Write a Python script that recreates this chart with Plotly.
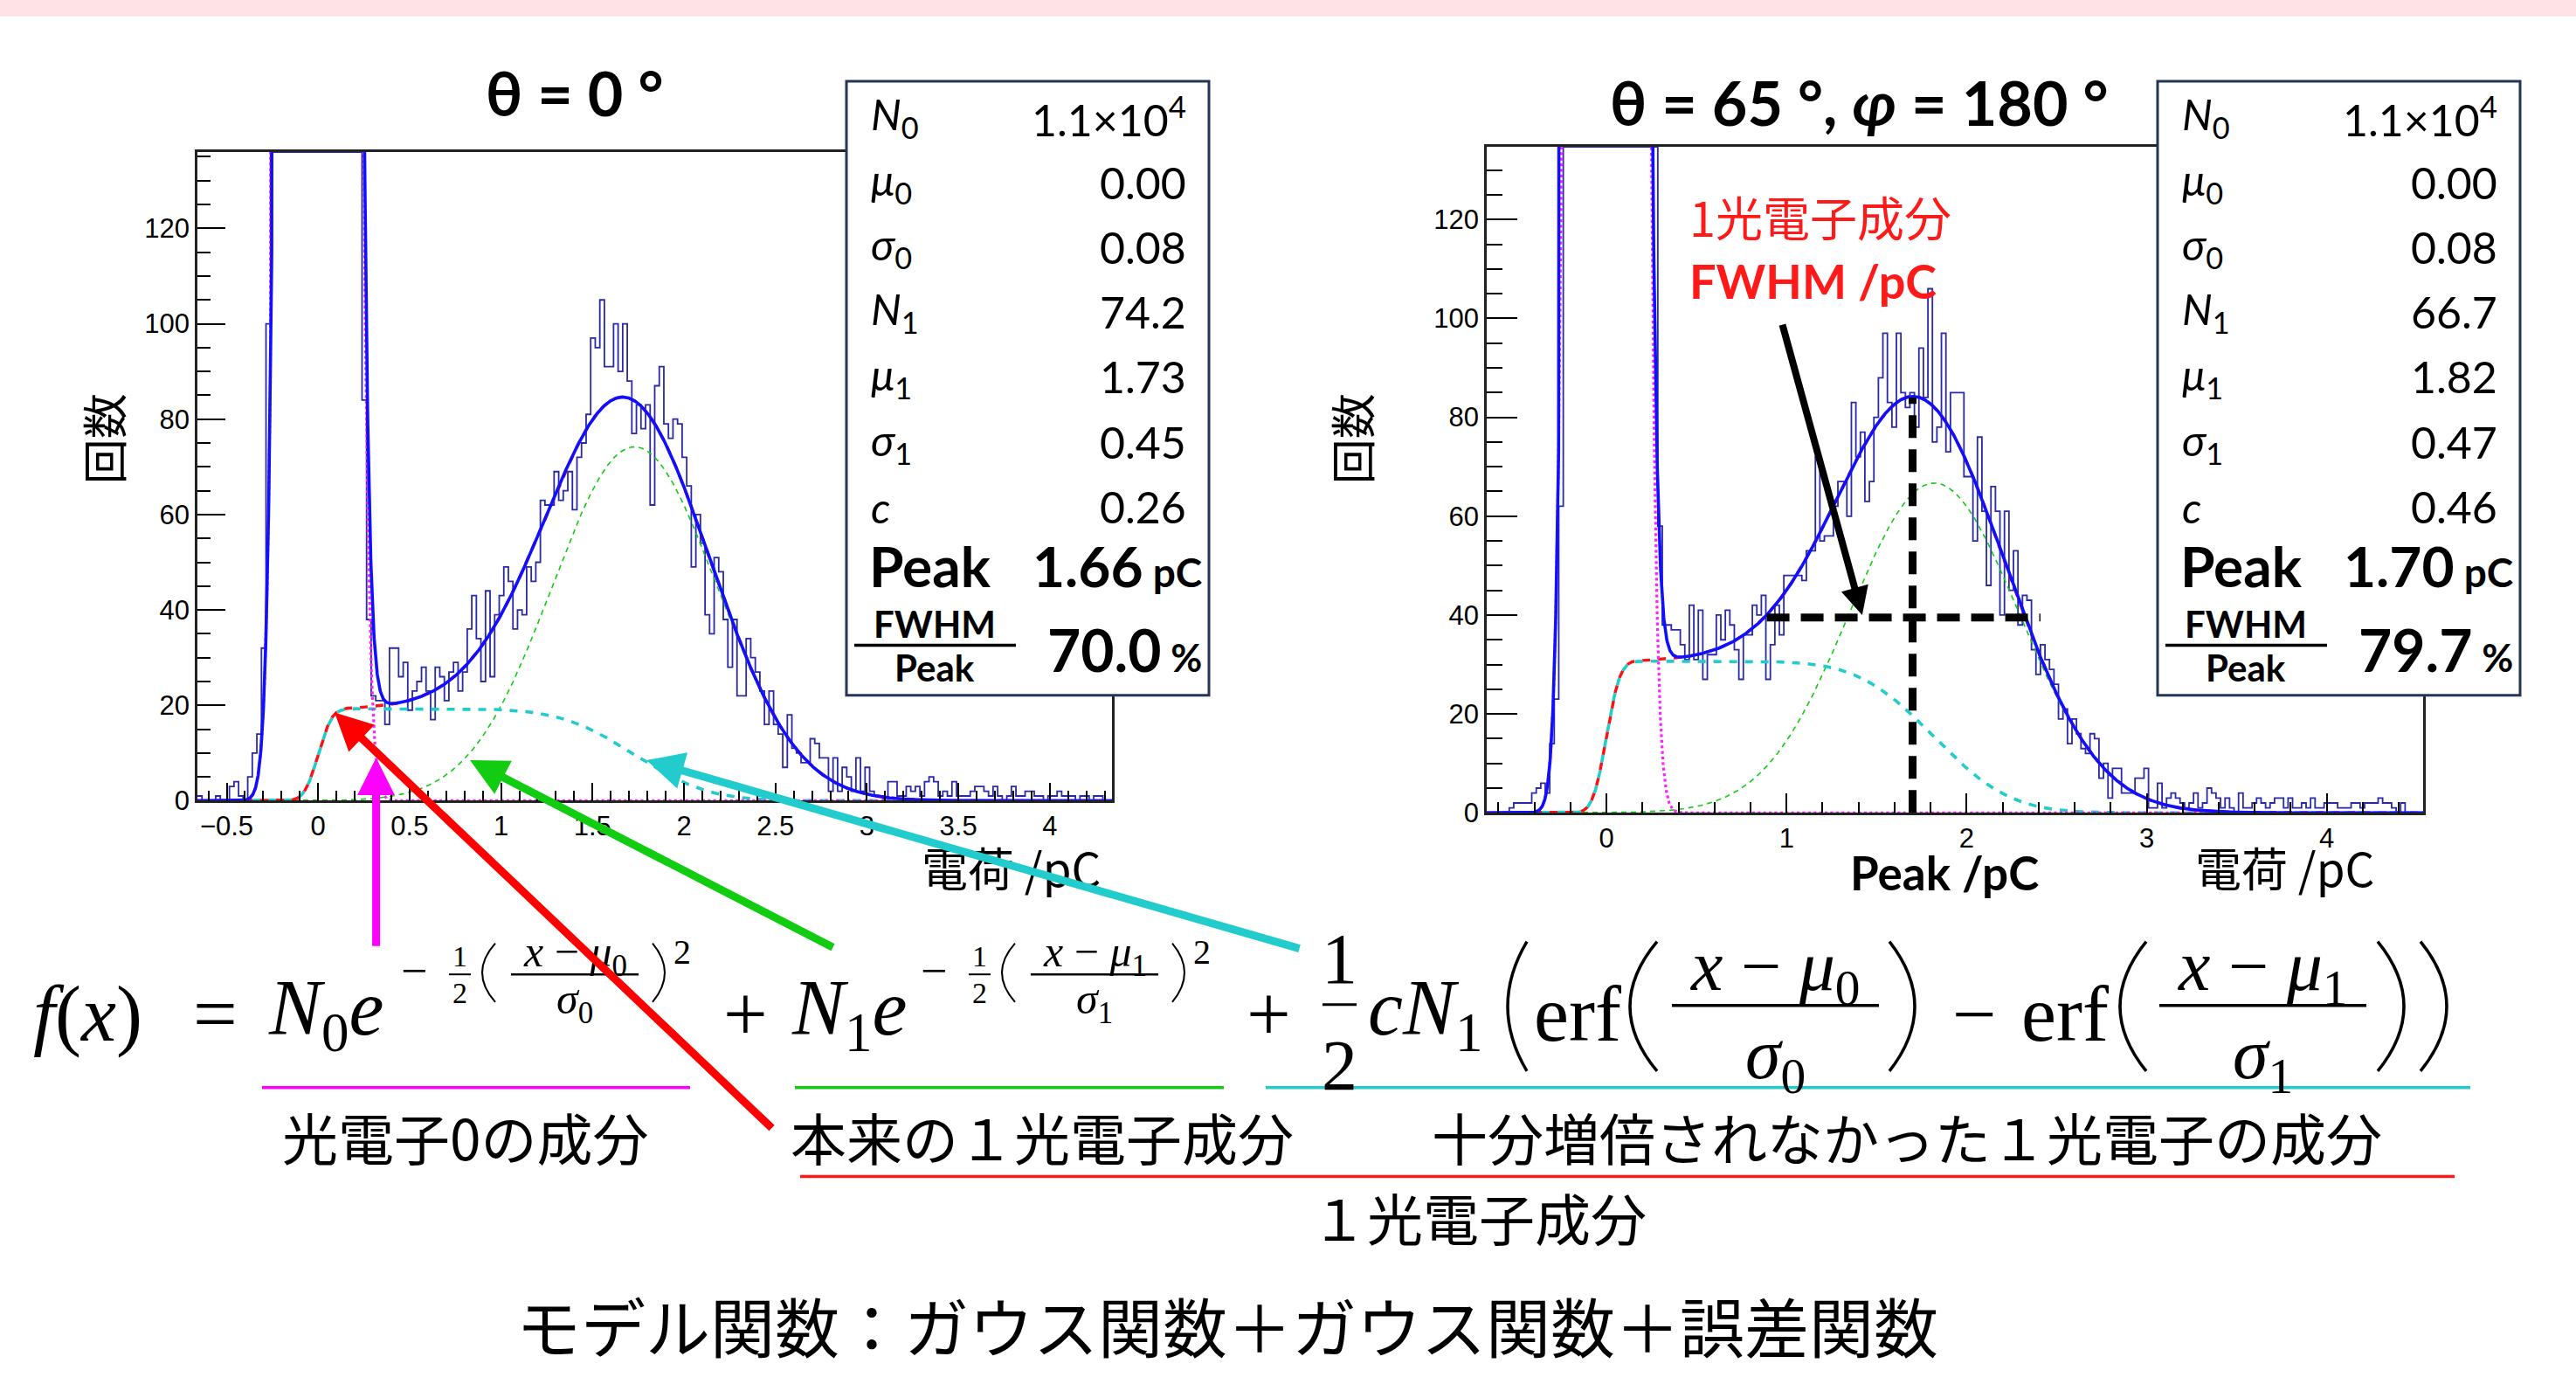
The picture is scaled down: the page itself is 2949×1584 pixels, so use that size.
import math
import numpy as np
import plotly.graph_objects as go

W, H = 2949, 1584

# ------------------------------------------------------------------ data
BIN_WIDTH = 0.025
LEFT_BIN_START = -0.66
RIGHT_BIN_START = -0.665
LEFT_X_RANGE = [-0.66, 4.34]
RIGHT_X_RANGE = [-0.665, 4.535]
LEFT_Y_TOP = 136.0
RIGHT_Y_TOP = 134.7

# histogram counts per 0.025 pC bin (theta = 0 deg)
left_counts = [
    1, 0, 0, 0, 1, 0, 0, 3, 4, 1, 0, 5, 10, 14, 32, 100,
    200, 530, 1250, 2550, 4500, 6800, 8900, 10300, 10900, 11000,
    11000, 10900, 10300, 8900, 6800, 4500, 2550, 1250, 530, 200,
    84, 38, 22, 21, 21, 16, 32, 32, 26, 29, 19, 23, 25, 28, 23, 17, 28, 26, 21, 27, 29, 23, 27,
    36, 43, 34, 25, 44, 26, 39,
    43, 49, 46, 36, 40, 39, 49, 46, 50, 63, 62, 62, 69, 63, 65, 69, 61, 72, 75, 81,
    97, 95, 105, 91, 91, 100, 90, 100, 88, 77, 83, 78, 83, 62, 87, 91, 79, 76, 80, 79,
    72, 66, 49, 60, 54, 39, 35, 51, 48, 38, 28, 38, 22, 22, 34, 30, 27, 23, 16, 23,
    16, 14, 7, 18, 11, 10, 8, 8, 13, 12, 9, 9, 2, 9, 2, 7, 5, 2, 9, 2,
    7, 2, 1, 1, 0, 4, 4, 1, 1, 3, 2, 3, 1, 4, 5, 4, 1, 2, 1, 4,
    1, 1, 1, 2, 3, 3, 2, 1, 3, 1, 0, 1, 3, 1, 1, 2, 2, 1, 1, 0,
    1, 1, 2, 1, 1, 1, 0, 1, 1, 0, 1, 1, 0, 0,
]

# histogram counts per 0.025 pC bin (theta = 65 deg, phi = 180 deg)
right_counts = [
    0, 0, 0, 0, 0, 1, 2, 2, 2, 2, 4, 5, 6, 4, 14, 23, 62,
    200, 530, 1250, 2550, 4500, 6800, 8900, 10300, 10900, 11000,
    11000, 10900, 10300, 8900, 6800, 4500, 2550, 1250, 530, 200,
    150, 58,
    38, 38, 37, 37, 34, 31, 42, 31, 41, 27, 32, 32, 40, 35, 41, 38, 33, 27, 36, 36, 42, 40, 44, 27, 34, 42, 36,
    48, 48, 48, 48,
    47, 53, 53, 72, 55, 56, 56, 62, 67, 67, 60, 83, 72, 77, 63, 67, 80, 88, 97, 83,
    78, 97, 85, 82, 85, 78, 94, 84, 106, 75, 78, 97, 73, 85, 85, 85, 68, 68, 55, 76,
    61, 46, 66, 61, 40, 61, 45, 53, 38, 44, 43, 33, 28, 34, 31, 29, 26, 19, 21, 14,
    19, 16, 13, 12, 16, 15, 7, 10, 3, 9, 9, 4, 4, 4, 7, 7, 9, 1, 1, 6,
    1, 3, 4, 3, 2, 1, 2, 4, 1, 2, 5, 4, 3, 1, 3, 1, 0, 4, 1, 1,
    2, 3, 2, 1, 2, 3, 3, 1, 3, 1, 1, 2, 1, 3, 1, 1, 2, 2, 2, 1,
    1, 1, 2, 2, 1, 2, 2, 2, 3, 2, 2, 1, 0, 2, 0, 0, 0, 0,
]

# fit parameters: N0, mu0, sigma0, N1, mu1, sigma1, c
left_params = [1.1e4, 0.00, 0.084, 74.2, 1.73, 0.45, 0.26]
right_params = [1.1e4, 0.00, 0.084, 66.7, 1.82, 0.47, 0.46]

stat_labels = ["<i>N</i><sub>0</sub>", "<i>μ</i><sub>0</sub>", "<i>σ</i><sub>0</sub>",
               "<i>N</i><sub>1</sub>", "<i>μ</i><sub>1</sub>", "<i>σ</i><sub>1</sub>", "<i>c</i>"]
left_stat_values = ["1.1×10<sup>4</sup>", "0.00", "0.08", "74.2", "1.73", "0.45", "0.26"]
right_stat_values = ["1.1×10<sup>4</sup>", "0.00", "0.08", "66.7", "1.82", "0.47", "0.46"]
left_peak, right_peak = "1.66", "1.70"
left_ratio, right_ratio = "70.0", "79.7"

left_title = "<b>θ = 0 °</b>"
right_title = "<b>θ = 65 °, <i>φ</i> = 180 °</b>"

# FWHM marker in the right panel
fwhm_level = 39.5
fwhm_span = [0.89, 2.41]
peak_position = 1.70
peak_height = 84.0

# ------------------------------------------------------------------ helpers
MF = "Liberation Serif"
CJK = "Noto Sans CJK JP"
LATO = "Lato"
BLUE_FIT = "#1010ff"
BLUE_HIST = "#2a2aa8"

annotations = []
shapes = []


def P(x, y):
    return x / W, 1 - y / H


def T(x, y, text, size, family=MF, color="black", xanchor="center",
      yanchor="middle", angle=0):
    px_, py_ = P(x, y)
    annotations.append(dict(x=px_, y=py_, xref="paper", yref="paper", text=text,
                            showarrow=False, xanchor=xanchor, yanchor=yanchor,
                            textangle=angle,
                            font=dict(size=size, family=family, color=color)))


def L(x0, y0, x1, y1, color="black", w=3, dash=None):
    a, b = P(x0, y0)
    c, d = P(x1, y1)
    ln = dict(color=color, width=w)
    if dash:
        ln["dash"] = dash
    shapes.append(dict(type="line", xref="paper", yref="paper", x0=a, y0=b,
                       x1=c, y1=d, line=ln, layer="above"))


def paren(xa, xb, yt, yb, left=True, w=3):
    x_end, x_ext = (xb, xa) if left else (xa, xb)
    xc = 2 * x_ext - x_end
    ym = (yt + yb) / 2
    a, b = P(x_end, yt)
    c, d = P(xc, ym)
    e, f = P(x_end, yb)
    shapes.append(dict(type="path", xref="paper", yref="paper",
                       path=f"M {a},{b} Q {c},{d} {e},{f}",
                       line=dict(color="black", width=w), layer="above"))


def model_parts(x, p):
    n0, m0, s0, n1, m1, s1, c = p
    erf = np.vectorize(math.erf)
    g0 = n0 * np.exp(-0.5 * ((x - m0) / s0) ** 2)
    g1 = n1 * np.exp(-0.5 * ((x - m1) / s1) ** 2)
    e = 0.5 * c * n1 * (erf((x - m0) / s0) - erf((x - m1) / s1))
    return g0, g1, e


fig = go.Figure()


def add_panel(counts, start, xr, ytop, params, xa, ya):
    n = len(counts)
    edges = start + BIN_WIDTH * np.arange(n + 1)
    shown = np.minimum(np.array(counts + [counts[-1]], dtype=float), ytop)
    fig.add_trace(go.Scatter(x=edges, y=shown, mode="lines", line_shape="hv",
                             line=dict(color=BLUE_HIST, width=1.8),
                             xaxis=xa, yaxis=ya, hoverinfo="skip"))
    xs = np.linspace(xr[0], xr[1], 4000)
    g0, g1, e = model_parts(xs, params)
    fig.add_trace(go.Scatter(x=xs, y=g1, mode="lines",
                             line=dict(color="#11cc11", width=1.6, dash="6px,5px"),
                             xaxis=xa, yaxis=ya, hoverinfo="skip"))
    fig.add_trace(go.Scatter(x=xs, y=g1 + e, mode="lines",
                             line=dict(color="#ff1010", width=3.4, dash="9px,9px"),
                             xaxis=xa, yaxis=ya, hoverinfo="skip"))
    fig.add_trace(go.Scatter(x=xs, y=e, mode="lines",
                             line=dict(color="#22cccc", width=3.6, dash="0px,9px,9px,0px"),
                             xaxis=xa, yaxis=ya, hoverinfo="skip"))
    fig.add_trace(go.Scatter(x=xs, y=g0, mode="lines",
                             line=dict(color="#ff22ff", width=3.2, dash="dot"),
                             xaxis=xa, yaxis=ya, hoverinfo="skip"))
    fig.add_trace(go.Scatter(x=xs, y=g0 + g1 + e, mode="lines",
                             line=dict(color=BLUE_FIT, width=3.6),
                             xaxis=xa, yaxis=ya, hoverinfo="skip"))


add_panel(left_counts, LEFT_BIN_START, LEFT_X_RANGE, LEFT_Y_TOP, left_params, "x", "y")
add_panel(right_counts, RIGHT_BIN_START, RIGHT_X_RANGE, RIGHT_Y_TOP, right_params, "x2", "y2")

tickfont = dict(size=31, family="Liberation Sans", color="black")


def axis_cfg(domain, rng, dtick, minor, tl, mtl):
    return dict(domain=domain, range=rng, dtick=dtick, tick0=0, ticks="inside",
                ticklen=tl, tickwidth=2, tickcolor="black", showline=True,
                linecolor="#222", linewidth=2.5, mirror=True, showgrid=False,
                zeroline=False, tickfont=tickfont,
                minor=dict(dtick=minor, tick0=0, ticks="inside", ticklen=mtl,
                           tickwidth=2, tickcolor="black", showgrid=False))


fig.update_layout(
    width=W, height=H, margin=dict(l=0, r=0, t=0, b=0),
    paper_bgcolor="white", plot_bgcolor="white", showlegend=False,
    xaxis=axis_cfg([226 / W, 1273 / W], LEFT_X_RANGE, 0.5, 0.1, 21, 12) | dict(anchor="y"),
    yaxis=axis_cfg([1 - 927 / H, 1 - 176 / H], [0, LEFT_Y_TOP], 20, 5, 32, 15) | dict(anchor="x"),
    xaxis2=axis_cfg([1702 / W, 2774 / W], RIGHT_X_RANGE, 1, 0.2, 23, 13) | dict(anchor="y2"),
    yaxis2=axis_cfg([1 - 941 / H, 1 - 170 / H], [0, RIGHT_Y_TOP], 20, 5, 35, 18) | dict(anchor="x2"),
)

# top pink band
a, b = P(0, 0)
c, d = P(W, 19)
shapes.append(dict(type="rect", xref="paper", yref="paper", x0=a, y0=b, x1=c, y1=d,
                   fillcolor="#fde3e6", line=dict(width=0), layer="below"))

# titles / axis titles
T(658, 107, left_title, 70, LATO)
T(2128, 118, right_title, 70, LATO)
T(117, 508, "回数", 52, CJK, angle=-90)
T(1546, 508, "回数", 52, CJK, angle=-90)
T(1262, 1003, "電荷 /pC", 53, CJK, xanchor="right")
T(2720, 1003, "電荷 /pC", 53, CJK, xanchor="right")
T(2226, 1010, "<b>Peak /pC</b>", 53, LATO)
T(1932, 250, "1光電子成分", 54, CJK, color="#ff1a1a", xanchor="left")
T(1932, 325, "<b>FWHM /pC</b>", 54, LATO, color="#ff1a1a", xanchor="left")

# stats boxes
row_y = [135, 211, 286, 361, 436, 512, 587]
for dx, vals, pk, ratio in [(0, left_stat_values, left_peak, left_ratio),
                            (1501, right_stat_values, right_peak, right_ratio)]:
    a, b = P(969 + dx, 94)
    c, d = P(1384 + dx, 805)
    shapes.append(dict(type="rect", xref="paper", yref="paper", x0=a, y0=b, x1=c, y1=d,
                       fillcolor="white", line=dict(color="#243656", width=3), layer="above"))
    for lab, val, yy in zip(stat_labels, vals, row_y):
        T(995 + dx, yy, lab, 49, LATO, xanchor="left")
        T(1360 + dx, yy, val, 50, LATO, xanchor="right")
    T(993 + dx, 655, "<b>Peak</b>", 64, LATO, xanchor="left")
    T(1378 + dx, 655, f"<b>{pk}</b><span style='font-size:46px'><b> pC</b></span>", 64,
      LATO, xanchor="right")
    T(1070 + dx, 722, "<b>FWHM</b>", 42, LATO)
    L(978 + dx, 747, 1163 + dx, 747, w=3.5)
    T(1070 + dx, 773, "<b>Peak</b>", 42, LATO)
    T(1378 + dx, 752, f"<b>{ratio}</b><span style='font-size:44px'><b> %</b></span>", 66,
      LATO, xanchor="right")

# FWHM / peak marker lines (right panel)
shapes.append(dict(type="line", xref="x2", yref="y2", x0=fwhm_span[0], x1=fwhm_span[1],
                   y0=fwhm_level, y1=fwhm_level, layer="above",
                   line=dict(color="black", width=9, dash="26px,13px")))
shapes.append(dict(type="line", xref="x2", yref="y2", x0=peak_position, x1=peak_position,
                   y0=0, y1=peak_height, layer="above",
                   line=dict(color="black", width=9, dash="26px,13px")))

# ---------------- formula
MS = 90
MY = 1174
T(36, MY, "<i>f</i>(<i>x</i>)", MS, MF, xanchor="left")
T(247, MY, "=", MS, MF)
T(305, MY, "<i>N</i><sub>0</sub><i>e</i>", MS, MF, xanchor="left")
for off, idx in [(0, "0"), (595, "1")]:
    T(474 + off, 1124, "−", 54, MF)
    T(526 + off, 1107, "1", 34, MF)
    T(526 + off, 1150, "2", 34, MF)
    L(514 + off, 1128, 539 + off, 1128, w=2)
    paren(552 + off, 567 + off, 1092, 1160, True, 2)
    T(658 + off, 1106, f"<i>x</i> − <i>μ</i><sub>{idx}</sub>", 50, MF)
    L(585 + off, 1128, 731 + off, 1128, w=2.5)
    T(658 + off, 1160, f"<i>σ</i><sub>{idx}</sub>", 50, MF)
    paren(747 + off, 761 + off, 1092, 1160, False, 2)
    T(781 + off, 1102, "2", 40, MF)
T(853, MY, "+", MS, MF)
T(904, MY, "<i>N</i><sub>1</sub><i>e</i>", MS, MF, xanchor="left")
T(1452, MY, "+", MS, MF)
T(1533, 1110, "1", 82, MF)
L(1514, 1163, 1553, 1163, w=3)
T(1533, 1234, "2", 82, MF)
T(1564, MY, "<i>cN</i><sub>1</sub>", MS, MF, xanchor="left")
paren(1726, 1748, 1090, 1240, True, 3.5)
T(1754, MY, "erf", MS, MF, xanchor="left")
paren(1866, 1897, 1090, 1240, True, 3.5)
T(2032, 1124, "<i>x</i> − <i>μ</i><sub>0</sub>", 82, MF)
L(1914, 1164, 2151, 1164, w=3.5)
T(2032, 1226, "<i>σ</i><sub>0</sub>", 82, MF)
paren(2163, 2192, 1090, 1240, False, 3.5)
T(2260, MY, "−", MS, MF)
T(2312, MY, "erf", MS, MF, xanchor="left")
paren(2427, 2457, 1090, 1240, True, 3.5)
T(2590, 1124, "<i>x</i> − <i>μ</i><sub>1</sub>", 82, MF)
L(2472, 1164, 2709, 1164, w=3.5)
T(2590, 1226, "<i>σ</i><sub>1</sub>", 82, MF)
paren(2722, 2752, 1090, 1240, False, 3.5)
paren(2771, 2801, 1090, 1240, False, 3.5)

# underlines and labels
L(300, 1259, 790, 1259, "#ff00ff", 3.5)
L(910, 1259, 1401, 1259, "#11cc11", 3.5)
L(1449, 1259, 2828, 1259, "#22cccc", 3.5)
L(916, 1362, 2810, 1362, "#ff1a1a", 3.5)
T(533, 1315, "光電子0の成分", 64, CJK)
T(1193, 1315, "本来の１光電子成分", 64, CJK)
T(2183, 1315, "十分増倍されなかった１光電子の成分", 64, CJK)
T(1693, 1408, "１光電子成分", 64, CJK)
T(1405, 1533, "モデル関数：ガウス関数＋ガウス関数＋誤差関数", 74, CJK)

# arrows (tip in data coords of left panel, tail offset in pixels)
for col, tx, ty, dx, dy in [("#ff00ff", 0.317, 9.0, 0, 217),
                            ("#ff0000", 0.09, 18.5, 502, 477),
                            ("#11cc11", 0.83, 8.5, 417, 215),
                            ("#22cccc", 1.795, 8.5, 749, 216)]:
    annotations.append(dict(x=tx, y=ty, xref="x", yref="y", ax=dx, ay=dy,
                            axref="pixel", ayref="pixel", text="", showarrow=True,
                            arrowhead=2, arrowsize=0.95, arrowwidth=9, arrowcolor=col,
                            standoff=0))
annotations.append(dict(x=1.42, y=40, xref="x2", yref="y2", ax=0.975, ay=99,
                        axref="x2", ayref="y2", text="", showarrow=True,
                        arrowhead=2, arrowsize=0.8, arrowwidth=8, arrowcolor="black",
                        standoff=0))

fig.update_layout(annotations=annotations, shapes=shapes)
fig.write_html("out.html")
